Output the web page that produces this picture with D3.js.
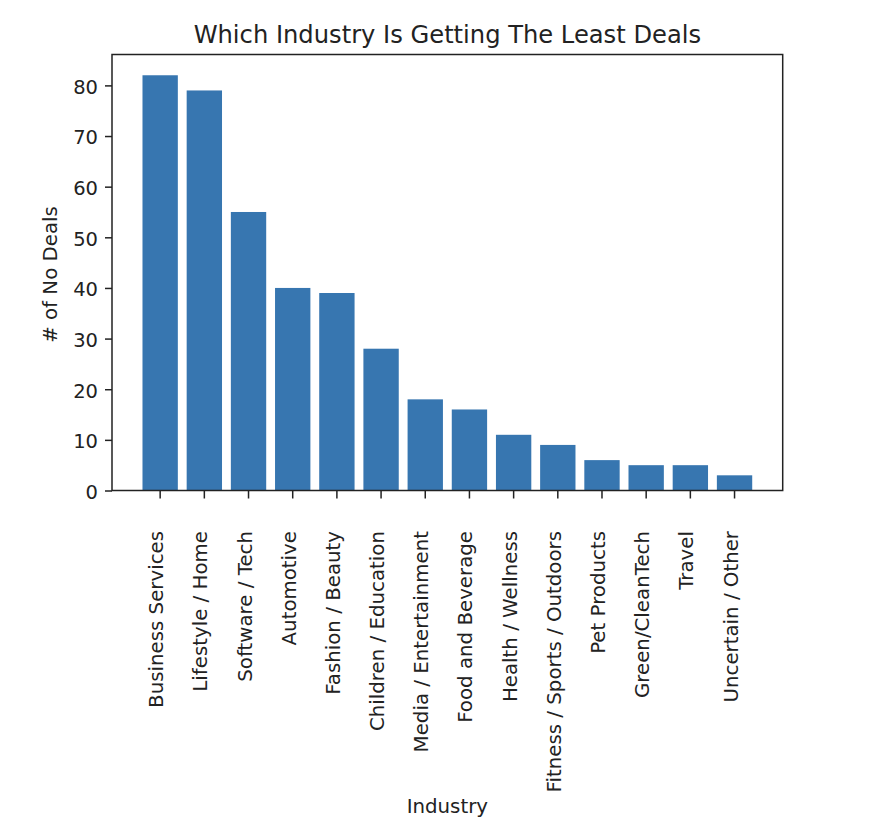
<!DOCTYPE html>
<html>
<head>
<meta charset="utf-8">
<script src="https://cdn.jsdelivr.net/npm/d3@7"></script>
<style>
  html, body { margin: 0; padding: 0; background: #fff; }
  text { font-family: "DejaVu Sans", sans-serif; fill: #222; }
</style>
</head>
<body>
<svg id="chart" width="870" height="839"></svg>
<script>
const categories = [
  "Business Services", "Lifestyle / Home", "Software / Tech", "Automotive",
  "Fashion / Beauty", "Children / Education", "Media / Entertainment",
  "Food and Beverage", "Health / Wellness", "Fitness / Sports / Outdoors",
  "Pet Products", "Green/CleanTech", "Travel", "Uncertain / Other"
];
const noDeals = [82, 79, 55, 40, 39, 28, 18, 16, 11, 9, 6, 5, 5, 3];
const yTicks = [0, 10, 20, 30, 40, 50, 60, 70, 80];
const titleText = "Which Industry Is Getting The Least Deals";
const xLabel = "Industry";
const yLabel = "# of No Deals";

(function () {
const svg = d3.select("#chart");
svg.append("rect").attr("width", 870).attr("height", 839).attr("fill", "#fff");

const pLeft = 112, pRight = 782.7, pTop = 54.5, pBottom = 490.5;

const x = d3.scaleBand()
  .domain(categories)
  .range([pLeft, pRight])
  .paddingInner(0.2)
  .paddingOuter(0.69);

const yMax = d3.max(noDeals) * 1.05;
const y = d3.scaleLinear().domain([0, yMax]).range([pBottom, pTop]);

// bars
svg.append("g").selectAll("rect")
  .data(categories)
  .join("rect")
  .attr("x", d => x(d))
  .attr("width", x.bandwidth())
  .attr("y", (d, i) => y(noDeals[i]))
  .attr("height", (d, i) => y(0) - y(noDeals[i]))
  .attr("fill", "#3776b0");

// y axis
const yAxis = d3.axisLeft(y).tickValues(yTicks).tickSize(7).tickPadding(7).tickFormat(d3.format("d"));
const gy = svg.append("g").attr("transform", `translate(${pLeft},0)`).call(yAxis);
gy.select(".domain").remove();
gy.selectAll(".tick line").attr("stroke", "#222").attr("stroke-width", 1.5);
gy.selectAll(".tick text")
  .attr("font-size", 19.5)
  .attr("font-family", "DejaVu Sans")
  .attr("fill", "#222")
  .attr("dy", "0.4em");

// x axis
const xAxis = d3.axisBottom(x).tickSize(8).tickFormat("");
const gx = svg.append("g").attr("transform", `translate(0,${pBottom})`).call(xAxis);
gx.select(".domain").remove();
gx.selectAll(".tick line").attr("stroke", "#222").attr("stroke-width", 1.5);
gx.selectAll(".tick text").remove();

// rotated category labels
svg.append("g").selectAll("text")
  .data(categories)
  .join("text")
  .attr("transform", d => `translate(${x(d) + x.bandwidth() / 2 + 3},531) rotate(-90)`)
  .attr("text-anchor", "end")
  .attr("font-size", 19.8)
  .text(d => d);

// spines
svg.append("rect")
  .attr("x", pLeft).attr("y", pTop)
  .attr("width", pRight - pLeft).attr("height", pBottom - pTop)
  .attr("fill", "none").attr("stroke", "#222").attr("stroke-width", 1.5);

// title
svg.append("text")
  .attr("x", (pLeft + pRight) / 2).attr("y", 43)
  .attr("text-anchor", "middle")
  .attr("font-size", 24.2)
  .text(titleText);

// x label
svg.append("text")
  .attr("x", (pLeft + pRight) / 2).attr("y", 813)
  .attr("text-anchor", "middle")
  .attr("font-size", 19.8)
  .text(xLabel);

// y label
svg.append("text")
  .attr("transform", `translate(57,${(pTop + pBottom) / 2 + 2}) rotate(-90)`)
  .attr("text-anchor", "middle")
  .attr("font-size", 19.8)
  .text(yLabel);
})();
</script>
</body>
</html>
